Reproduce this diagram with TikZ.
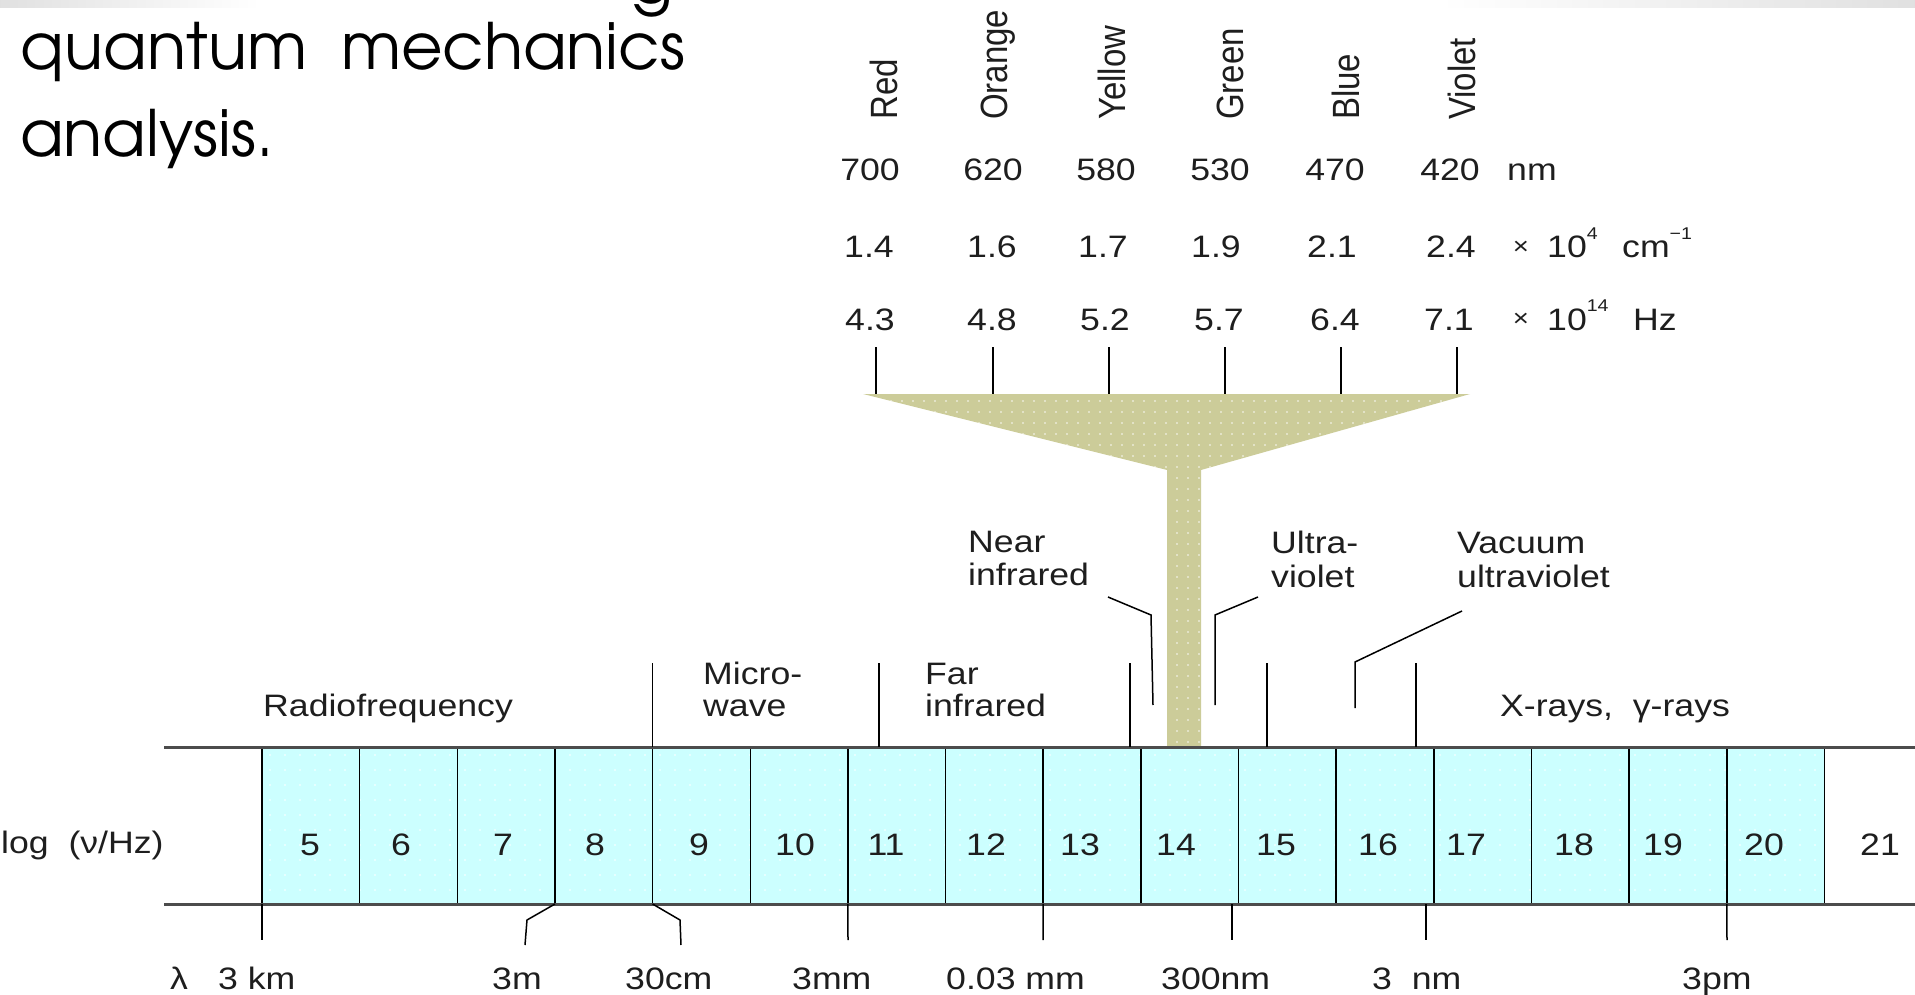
\documentclass[tikz,border=0pt]{standalone}
\usepackage{fontspec}
\usepackage{graphicx}
\setmainfont{Liberation Sans}
\newfontfamily\titlefont{texgyreadventor-regular.otf}
\usetikzlibrary{patterns.meta}
\definecolor{boxcyan}{RGB}{204,255,255}
\definecolor{funnelc}{RGB}{204,204,153}
\definecolor{ink}{RGB}{30,30,30}
\newcommand\sx[1]{\scalebox{1.15}[1]{#1}}
\newcommand\sy[1]{\scalebox{1}[1.15]{#1}}
\newcommand\supr[1]{\raisebox{18pt}{\fontsize{17}{17}\selectfont #1}}
\begin{document}
\begin{tikzpicture}[x=1pt,y=-1pt,
  lab/.style={inner sep=0pt, anchor=base west, text=ink, font=\fontsize{31}{36}\selectfont},
  num/.style={inner sep=0pt, anchor=base, text=ink, font=\fontsize{31}{36}\selectfont},
  col/.style={inner sep=0pt, anchor=base west, rotate=90, text=ink, font=\fontsize{33}{36}\selectfont},
  title/.style={inner sep=0pt, anchor=base west, text=black, font=\titlefont\fontsize{64}{70}\selectfont},
  sep/.style={draw=black, line width=1.5pt},
  band/.style={draw=black!70, line width=3pt},
  tick/.style={draw=black, line width=1.6pt}]
\useasboundingbox (0,0) rectangle (1915,995);
\fill[white] (0,0) rectangle (1915,995);
\shade[left color=black!12, right color=white] (0,0) rectangle (260,8);
\shade[left color=white, right color=black!12] (1440,0) rectangle (1915,8);

% title text
\node[title] (tg) at (630,4) {g};
\node[title] (t1) at (20,70) {quantum\hspace{34pt}mechanics};
\node[title] (t2) at (20,157) {analysis.};

% colour names
\foreach \n/\x in {Red/897, Orange/1007, Yellow/1125, Green/1243, Blue/1359, Violet/1475}
  \node[col] (c\n) at (\x,120) {\sy{\n}};

% rows of values
\foreach \v/\x [count=\i] in {700/870, 620/993, 580/1106, 530/1220, 470/1335, 420/1450}
  \node[num] (w\i) at (\x,181) {\sx{\v}};
\node[lab] (wunit) at (1507,181) {\sx{nm}};
\foreach \v/\x [count=\i] in {1.4/869, 1.6/992, 1.7/1103, 1.9/1216, 2.1/1332, 2.4/1451}
  \node[num] (k\i) at (\x,258) {\sx{\v}};
\node[inner sep=0pt, text=ink, font=\fontsize{24}{24}\selectfont] (kx) at (1521,248) {\sx{×}};
\node[lab] (kp) at (1547,258) {\sx{10\supr{4}}};
\node[lab] (ku) at (1622,258) {\sx{cm\supr{−1}}};
\foreach \v/\x [count=\i] in {4.3/870, 4.8/992, 5.2/1105, 5.7/1219, 6.4/1335, 7.1/1449}
  \node[num] (h\i) at (\x,330) {\sx{\v}};
\node[inner sep=0pt, text=ink, font=\fontsize{24}{24}\selectfont] (hx) at (1521,320) {\sx{×}};
\node[lab] (hp) at (1547,330) {\sx{10\supr{14}}};
\node[lab] (hu) at (1633,330) {\sx{Hz}};

% ticks
\foreach \x [count=\i] in {876,993,1109,1225,1341,1457} {
  \coordinate (ta\i) at (\x,347);
  \coordinate (tb\i) at (\x,395);
  \draw[tick] (ta\i) -- (tb\i);
}

% funnel
\coordinate (f1) at (863,394);
\coordinate (f2) at (1470,394);
\coordinate (f3) at (1201,470);
\coordinate (f4) at (1201,747);
\coordinate (f5) at (1167,747);
\coordinate (f6) at (1167,470);
\fill[funnelc] (f1) -- (f2) -- (f3) -- (f4) -- (f5) -- (f6) -- cycle;
\fill[pattern={Dots[distance=11pt,radius=0.9pt]}, pattern color=white!90!funnelc] (f1) -- (f2) -- (f3) -- (f4) -- (f5) -- (f6) -- cycle;

% boxes
\coordinate (bx1) at (262,747);
\coordinate (bx2) at (1824,904);
\fill[boxcyan] (bx1) rectangle (bx2);
\fill[pattern={Dots[distance=15pt,radius=0.9pt]}, pattern color=white] (bx1) rectangle (bx2);
\foreach \k in {0,...,16} {
  \coordinate (et\k) at ({262+97.65*\k},747);
  \coordinate (eb\k) at ({262+97.65*\k},904);
  \draw[sep] (et\k) -- (eb\k);
}
\coordinate (tl) at (164,747);
\coordinate (tr) at (1915,747);
\coordinate (bl) at (164,904);
\coordinate (br) at (1915,904);
\draw[band] (tl) -- (tr);
\draw[band] (bl) -- (br);

% region boundaries above
\foreach \x [count=\i] in {652.6,879,1130,1267,1416} {
  \coordinate (ua\i) at (\x,663);
  \coordinate (ub\i) at (\x,747);
  \draw[sep] (ua\i) -- (ub\i);
}

% leaders
\coordinate (nA) at (1108,597); \coordinate (nB) at (1151,615); \coordinate (nC) at (1153,705);
\draw[sep] (nA) -- (nB) -- (nC);
\coordinate (uA) at (1258,597); \coordinate (uB) at (1215,615); \coordinate (uC) at (1215,705);
\draw[sep] (uA) -- (uB) -- (uC);
\coordinate (vA) at (1462,611); \coordinate (vB) at (1355,662); \coordinate (vC) at (1355,708);
\draw[sep] (vA) -- (vB) -- (vC);

% wavelength ticks below
\coordinate (l1) at (262,940);
\draw[sep] (eb0) -- (l1);
\coordinate (l2a) at (527,920); \coordinate (l2) at (525,945);
\draw[sep] (eb3) -- (l2a) -- (l2);
\coordinate (l3a) at (680,920); \coordinate (l3) at (681,945);
\draw[sep] (eb4) -- (l3a) -- (l3);
\coordinate (l4) at (848,940);
\draw[sep] (eb6) -- (l4);
\coordinate (l5) at (1043,940);
\draw[sep] (eb8) -- (l5);
\coordinate (l6a) at (1232,904); \coordinate (l6) at (1232,940);
\draw[sep] (l6a) -- (l6);
\coordinate (l7a) at (1426,904); \coordinate (l7) at (1426,940);
\draw[sep] (l7a) -- (l7);
\coordinate (l8) at (1727,940);
\draw[sep] (eb15) -- (l8);

% region labels
\node[lab] (rf) at (263,716) {\sx{Radiofrequency}};
\node[lab] (mw1) at (703,684) {\sx{Micro-}};
\node[lab] (mw2) at (703,716) {\sx{wave}};
\node[lab] (fi1) at (925,684) {\sx{Far}};
\node[lab] (fi2) at (925,716) {\sx{infrared}};
\node[lab] (ni1) at (968,552) {\sx{Near}};
\node[lab] (ni2) at (968,585) {\sx{infrared}};
\node[lab] (uv1) at (1271,553) {\sx{Ultra-}};
\node[lab] (uv2) at (1271,587) {\sx{violet}};
\node[lab] (vu1) at (1457,553) {\sx{Vacuum}};
\node[lab] (vu2) at (1457,587) {\sx{ultraviolet}};
\node[lab] (xr) at (1500,716) {\sx{X-rays,\ \ γ-rays}};

% log scale
\node[lab] (logl) at (1,853) {\sx{log\ \ (ν/Hz)}};
\foreach \n/\x in {5/310, 6/401, 7/503, 8/595, 9/699, 10/795, 11/886, 12/986, 13/1080, 14/1176, 15/1276, 16/1378, 17/1466, 18/1574, 19/1663, 20/1764, 21/1880}
  \node[num] (n\n) at (\x,855) {\sx{\n}};

% wavelength labels
\node[lab] (lam) at (170,989) {\sx{λ}};
\node[lab] (w3km) at (218,989) {\sx{3 km}};
\node[lab] (w3m) at (492,989) {\sx{3m}};
\node[lab] (w30cm) at (625,989) {\sx{30cm}};
\node[lab] (w3mm) at (792,989) {\sx{3mm}};
\node[lab] (w003) at (946,989) {\sx{0.03 mm}};
\node[lab] (w300) at (1161,989) {\sx{300nm}};
\node[lab] (w3nm) at (1372,989) {\sx{3\ \ nm}};
\node[lab] (w3pm) at (1682,989) {\sx{3pm}};
\end{tikzpicture}
\end{document}
